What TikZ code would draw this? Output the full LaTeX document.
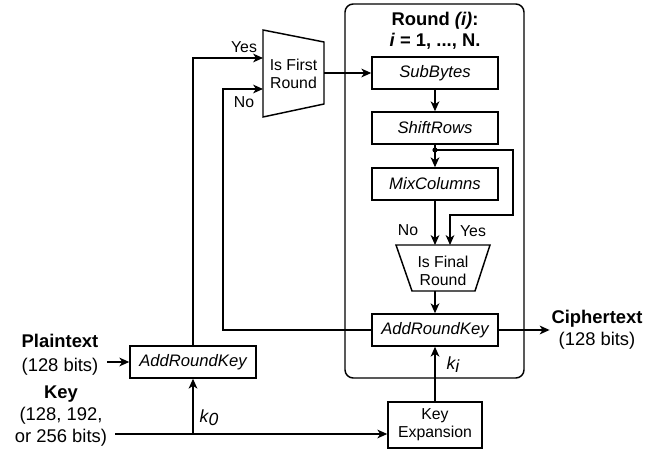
\documentclass[tikz,border=0pt]{standalone}
\usepackage{fontspec}
\setmainfont{Liberation Sans}
\usepackage{tikz}
\usetikzlibrary{arrows.meta,positioning,shapes.geometric}

\begin{document}
\begin{tikzpicture}[
x=0.03cm, y=-0.03cm,
font=\fontsize{13.5}{15.5}\selectfont,
line width=1.25pt,
arr/.style={-{Stealth[length=8.5pt,width=7.5pt,inset=2.5pt]}},
stagebox/.style={draw, minimum width=3.78cm, minimum height=0.96cm, inner sep=0pt, font=\fontsize{14.2}{16}\selectfont\itshape},
biglabel/.style={align=center, inner sep=0pt, font=\fontsize{15.7}{18.5}\selectfont}
]
    \useasboundingbox (0,0) rectangle (645,453);

    % Round box
    \draw[rounded corners=7pt] (345,4) rectangle (524,378);
    \node[align=center, inner sep=0pt, font=\fontsize{15.7}{18}\selectfont\bfseries] (title) at (435,31)
        {Round \textit{(i)}:\\\textit{i} = 1, ..., N.};

    % Stages
    \node[stagebox] (sub) at (435,73) {SubBytes};
    \node[stagebox] (shift) at (435,128) {ShiftRows};
    \node[stagebox] (mix) at (435,184) {MixColumns};
    \node[stagebox] (ark) at (435,330) {AddRoundKey};
    \node[stagebox] (ark0) at (193,362) {AddRoundKey};
    \node[draw, minimum width=2.82cm, minimum height=1.38cm, inner sep=0pt, align=center] (kexp) at (435,425) {Key\\Expansion};

    % Muxes
    \draw (263,30) -- (324,42) -- (324,104) -- (263,117) -- cycle;
    \node[align=center, inner sep=0pt] (mux) at (293.5,74) {Is First\\Round};
    \draw (396,245) -- (490,245) -- (475,291) -- (412,291) -- cycle;
    \node[align=center, inner sep=0pt] (final) at (443,271) {Is Final\\Round};

    \draw
    (263,58) coordinate (muxyes)
    (263,89) coordinate (muxno)
    (324,73) coordinate (muxout)
    (223,89) coordinate (nobend)
    (435,150) coordinate (split)
    (513,215) coordinate (yesbend)
    (435,245) coordinate (finno)
    (450,245) coordinate (finyes)
    (435,291) coordinate (finout)
    (115,434) coordinate (keyin);

    % Outer labels
    \node[biglabel] (plain) at (60,355) {\textbf{Plaintext}\\[2pt](128 bits)};
    \node[biglabel] (key) at (61,416) {\textbf{Key}\\(128, 192,\\or 256 bits)};
    \node[biglabel, inner sep=1pt] (cipher) at (597,330) {\textbf{Ciphertext}\\(128 bits)};

    % Connectors
    \draw[arr] (ark0.north) |- (muxyes);
    \draw[arr] (ark.west) -| (nobend) -- (muxno);
    \draw[arr] (muxout) -- (sub.west);
    \draw[arr] (sub) -- (shift);
    \draw[arr] (shift) -- (mix);
    \fill (split) circle (2.2pt);
    \draw[arr] (split) -| (yesbend) -| (finyes);
    \draw[arr] (mix) -- (finno);
    \draw[arr] (finout) -- (ark);
    \draw[arr] (ark) -- (cipher);
    \draw[arr, shorten <=7pt] (ark0.west -| plain.east) -- (ark0.west);
    \draw[arr] (keyin) -- (keyin -| kexp.west);
    \draw[arr] (keyin -| ark0.south) -- (ark0.south);
    \draw[arr] (kexp) -- (ark);

    % Branch labels
    \node (yes1) at (244,47) {Yes};
    \node (no1) at (244,102) {No};
    \node (no2) at (408,230) {No};
    \node (yes2) at (473,231) {Yes};
    \node[font=\fontsize{15}{17}\selectfont\itshape] (k0) at (209,418) {k\raisebox{-2.5pt}{0}};
    \node[font=\fontsize{15}{17}\selectfont\itshape] (ki) at (453,365) {k\raisebox{-2.5pt}{i}};
\end{tikzpicture}
\end{document}
